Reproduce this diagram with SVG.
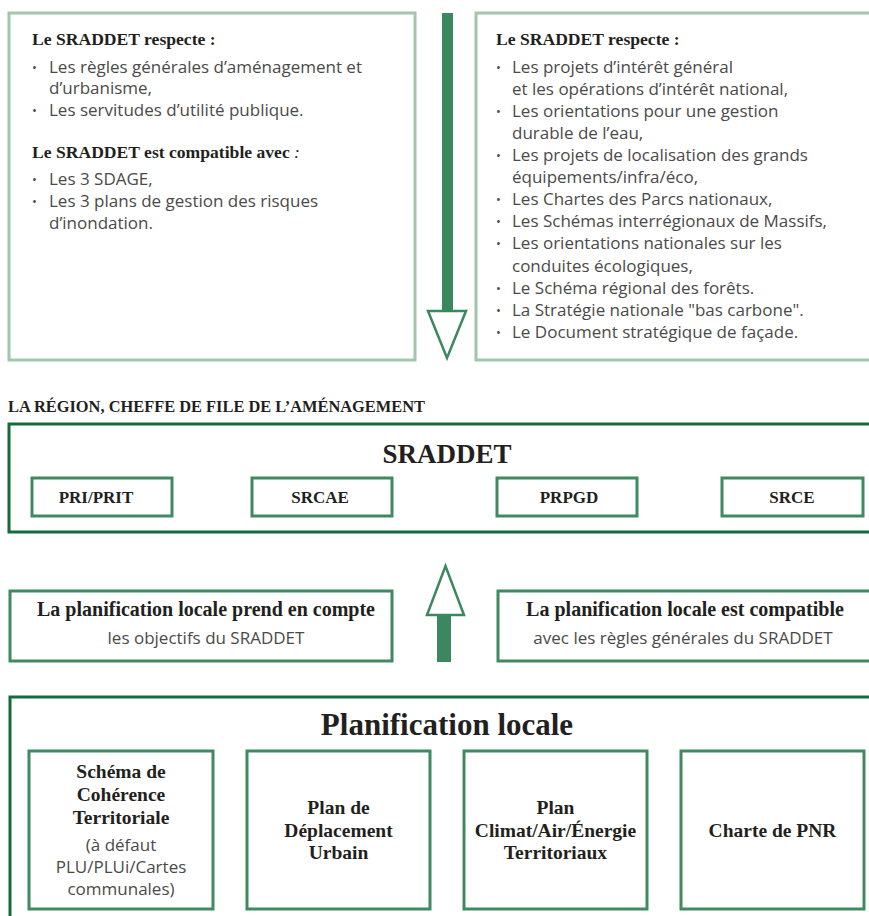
<svg xmlns="http://www.w3.org/2000/svg" width="869" height="916" viewBox="0 0 869 916">
<style>
.bg{fill:#ffffff}
.light{fill:#ffffff;stroke:#a0c6ab;stroke-width:3}
.dark{fill:#ffffff;stroke:#136b3c;stroke-width:3}
.mid{fill:#ffffff;stroke:#3f8a61;stroke-width:3}
.h{font-family:"Liberation Serif","Times New Roman",serif;font-weight:bold;fill:#231f20}
.b{font-family:"Open Sans","Liberation Sans",Arial,sans-serif;fill:#4a4a4a;font-size:17px}
.bul{font-family:"Open Sans","Liberation Sans",Arial,sans-serif;fill:#4a4a4a;font-size:13px}
.c{text-anchor:middle}
.arrowfill{fill:#3b8760}
.arrowhead{fill:#ffffff;stroke:#3b8760;stroke-width:2.5;stroke-linejoin:miter}
</style>
<rect class="bg" x="0" y="0" width="869" height="916"/>

<g id="box-left-top">
<rect class="light" x="9" y="13" width="406" height="347"/>
<text class="h" x="32" y="45" font-size="17.6">Le SRADDET respecte :</text>
<text class="bul" x="32" y="72">•</text>
<text class="b" x="49" y="73">Les règles générales d’aménagement et</text>
<text class="b" x="49" y="94">d’urbanisme,</text>
<text class="bul" x="32" y="115">•</text>
<text class="b" x="49" y="116">Les servitudes d’utilité publique.</text>
<text class="h" x="32" y="158" font-size="17.6">Le SRADDET est compatible avec <tspan font-style="italic" font-weight="normal">:</tspan></text>
<text class="bul" x="32" y="184">•</text>
<text class="b" x="49" y="185">Les 3 SDAGE,</text>
<text class="bul" x="32" y="206">•</text>
<text class="b" x="49" y="207">Les 3 plans de gestion des risques</text>
<text class="b" x="49" y="229">d’inondation.</text>
</g>

<g id="box-right-top">
<rect class="light" x="476" y="13" width="400" height="347"/>
<text class="h" x="496" y="45" font-size="17.6">Le SRADDET respecte :</text>
<text class="bul" x="496" y="72">•</text>
<text class="b" x="512" y="73">Les projets d’intérêt général</text>
<text class="b" x="512" y="95">et les opérations d’intérêt national,</text>
<text class="bul" x="496" y="116">•</text>
<text class="b" x="512" y="117">Les orientations pour une gestion</text>
<text class="b" x="512" y="139">durable de l’eau,</text>
<text class="bul" x="496" y="160">•</text>
<text class="b" x="512" y="161">Les projets de localisation des grands</text>
<text class="b" x="512" y="183">équipements/infra/éco,</text>
<text class="bul" x="496" y="204">•</text>
<text class="b" x="512" y="205">Les Chartes des Parcs nationaux,</text>
<text class="bul" x="496" y="226">•</text>
<text class="b" x="512" y="227">Les Schémas interrégionaux de Massifs,</text>
<text class="bul" x="496" y="248">•</text>
<text class="b" x="512" y="249">Les orientations nationales sur les</text>
<text class="b" x="512" y="272">conduites écologiques,</text>
<text class="bul" x="496" y="293">•</text>
<text class="b" x="512" y="294">Le Schéma régional des forêts.</text>
<text class="bul" x="496" y="315">•</text>
<text class="b" x="512" y="316">La Stratégie nationale "bas carbone".</text>
<text class="bul" x="496" y="337">•</text>
<text class="b" x="512" y="338">Le Document stratégique de façade.</text>
</g>

<g id="connectors">
<rect class="arrowfill" x="442" y="13" width="11" height="298"/>
<polygon class="arrowhead" points="428,311 466,311 447,358"/>
<rect class="arrowfill" x="437" y="614" width="14" height="48"/>
<polygon class="arrowhead" points="427,615 464,615 445.5,566"/>
</g>

<text class="h" x="8" y="412" font-size="16.4">LA RÉGION, CHEFFE DE FILE DE L’AMÉNAGEMENT</text>

<g id="sraddet">
<rect class="dark" x="9" y="424" width="870" height="108"/>
<text class="h c" x="447" y="463" font-size="27">SRADDET</text>
</g>
<g id="pri-prit">
<rect class="mid" x="32" y="478" width="140" height="38"/>
<text class="h c" x="96" y="503" font-size="17">PRI/PRIT</text>
</g>
<g id="srcae">
<rect class="mid" x="252" y="478" width="140" height="38"/>
<text class="h c" x="320" y="503" font-size="17">SRCAE</text>
</g>
<g id="prpgd">
<rect class="mid" x="497" y="478" width="140" height="38"/>
<text class="h c" x="569" y="503" font-size="17">PRPGD</text>
</g>
<g id="srce">
<rect class="mid" x="722" y="478" width="141" height="38"/>
<text class="h c" x="792" y="503" font-size="17">SRCE</text>
</g>

<g id="prend-en-compte">
<rect class="mid" x="10" y="591" width="382" height="70"/>
<text class="h c" x="206" y="616" font-size="20">La planification locale prend en compte</text>
<text class="b c" x="206" y="644">les objectifs du SRADDET</text>
</g>
<g id="compatible">
<rect class="mid" x="498" y="591" width="380" height="70"/>
<text class="h c" x="685" y="616" font-size="20">La planification locale est compatible</text>
<text class="b c" x="683" y="644">avec les règles générales du SRADDET</text>
</g>

<g id="planification-locale">
<rect class="dark" x="10" y="697" width="870" height="235"/>
<text class="h c" x="447" y="735" font-size="31">Planification locale</text>
</g>
<g id="scot">
<rect class="mid" x="29" y="751" width="184" height="158"/>
<text class="h c" x="121" y="778" font-size="19.5">Schéma de</text>
<text class="h c" x="121" y="801" font-size="19.5">Cohérence</text>
<text class="h c" x="121" y="824" font-size="19.5">Territoriale</text>
<text class="b c" x="121" y="851" font-size="18.5">(à défaut</text>
<text class="b c" x="121" y="873" font-size="18.5">PLU/PLUi/Cartes</text>
<text class="b c" x="121" y="895" font-size="18.5">communales)</text>
</g>
<g id="pdu">
<rect class="mid" x="247" y="751" width="183" height="158"/>
<text class="h c" x="338.5" y="814" font-size="19.5">Plan de</text>
<text class="h c" x="338.5" y="837" font-size="19.5">Déplacement</text>
<text class="h c" x="338.5" y="859" font-size="19.5">Urbain</text>
</g>
<g id="pcaet">
<rect class="mid" x="464" y="751" width="183" height="158"/>
<text class="h c" x="555.5" y="814" font-size="19.5">Plan</text>
<text class="h c" x="555.5" y="837" font-size="19.5">Climat/Air/Énergie</text>
<text class="h c" x="555.5" y="859" font-size="19.5">Territoriaux</text>
</g>
<g id="pnr">
<rect class="mid" x="681" y="751" width="183" height="158"/>
<text class="h c" x="772.5" y="837" font-size="19.5">Charte de PNR</text>
</g>
</svg>
